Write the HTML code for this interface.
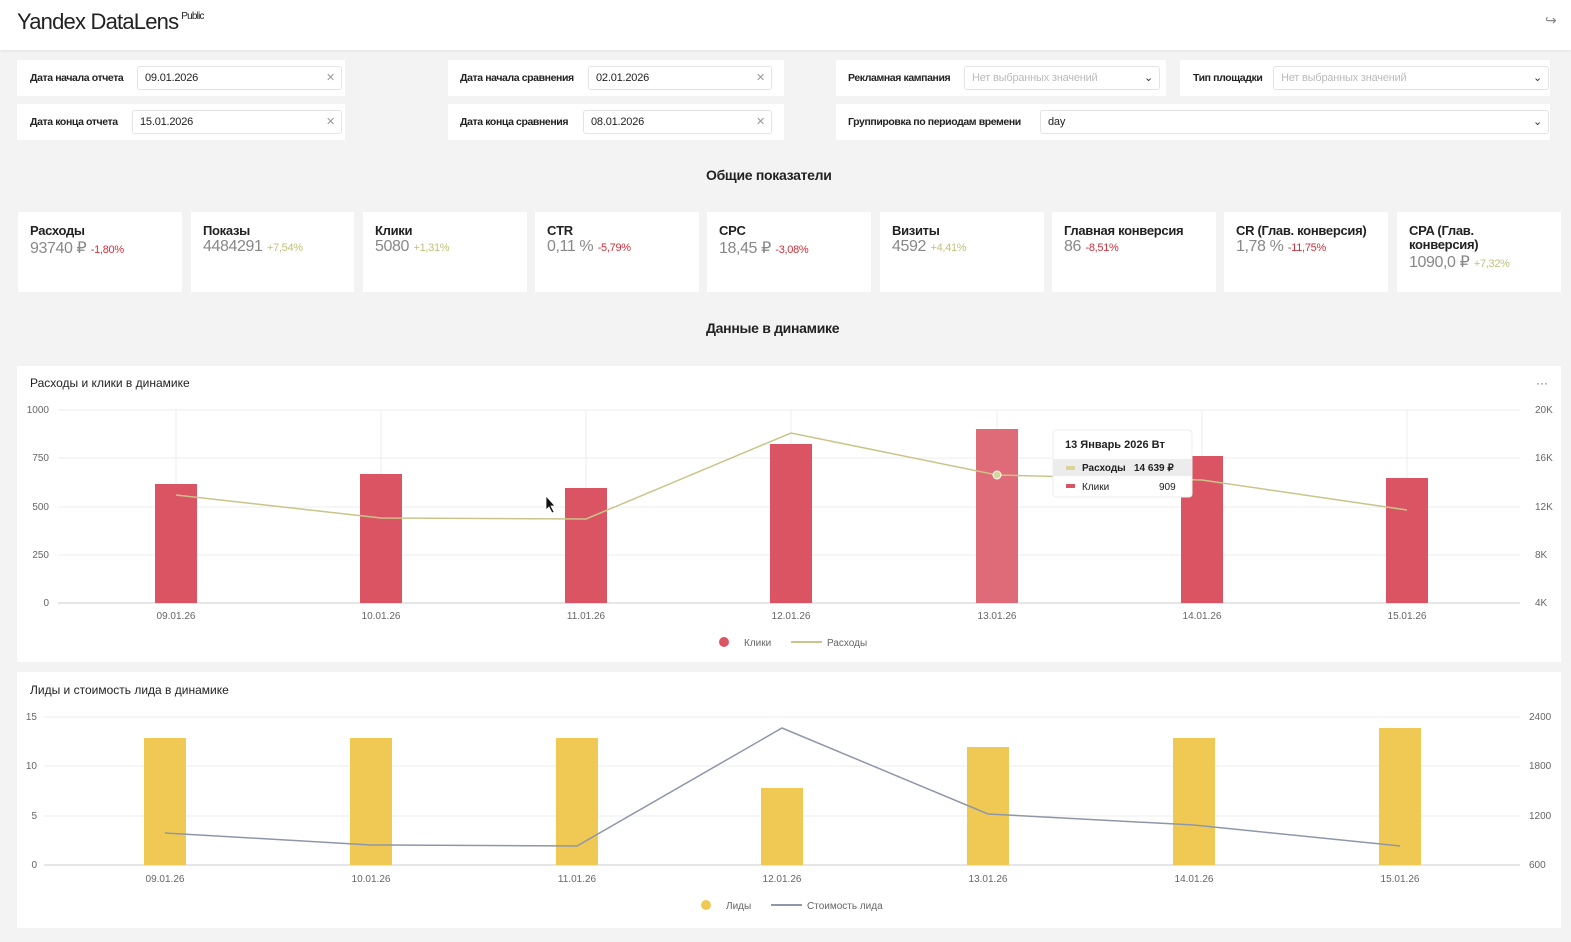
<!DOCTYPE html>
<html><head><meta charset="utf-8"><style>
*{box-sizing:border-box;margin:0;padding:0}
body{width:1571px;height:942px;background:#f3f3f4;font-family:"Liberation Sans",sans-serif;position:relative;overflow:hidden;color:#222}
.a{position:absolute}
.hdr{left:0;top:0;width:1571px;height:50px;background:#fff;box-shadow:0 1px 3px rgba(0,0,0,.08)}
.panel{background:#fff;position:absolute}
.lbl{font-size:10.5px;font-weight:bold;color:#222;position:absolute;letter-spacing:-0.4px}
.inp{position:absolute;height:24px;border:1px solid #e4e4e4;border-radius:3px;font-size:11px;padding:5px 7px;background:#fff;color:#222;letter-spacing:-0.2px}
.inp .x{position:absolute;right:6px;top:4px;color:#999}
.ph{color:#bbb}
.card{position:absolute;top:212px;height:80px;background:#fff;padding:12px 12px}
.card b{font-size:13px;display:block;color:#222;line-height:14px;letter-spacing:-0.3px}
.card .v{font-size:16px;color:#888;letter-spacing:-0.4px}
.card .r{font-size:11px;color:#d0303a;letter-spacing:-0.3px}
.card .g{font-size:11px;color:#c3c07a;letter-spacing:-0.3px}
.h{font-size:14px;font-weight:bold;position:absolute;letter-spacing:-0.3px}
svg text{font-family:"Liberation Sans",sans-serif}
</style></head><body>
<div class="a hdr"></div>
<div class="a" style="left:17px;top:9px;font-size:22px;color:#222;letter-spacing:-0.8px">Yandex DataLens<sup style="font-size:10px;vertical-align:10px;margin-left:3px">Public</sup></div>
<div class="a" style="left:1545px;top:12px;font-size:14px;color:#888">↪</div>

<div class="panel" style="left:17px;top:60px;width:328px;height:36px"></div>
<div class="panel" style="left:17px;top:104px;width:328px;height:36px"></div>
<div class="panel" style="left:448px;top:60px;width:336px;height:36px"></div>
<div class="panel" style="left:448px;top:104px;width:336px;height:36px"></div>
<div class="panel" style="left:836px;top:60px;width:330px;height:36px"></div>
<div class="panel" style="left:1180px;top:60px;width:370px;height:36px"></div>
<div class="panel" style="left:836px;top:104px;width:714px;height:36px"></div>

<div class="lbl" style="left:30px;top:72px">Дата начала отчета</div>
<div class="inp" style="left:137px;top:66px;width:205px">09.01.2026<span class="x">✕</span></div>
<div class="lbl" style="left:30px;top:116px">Дата конца отчета</div>
<div class="inp" style="left:132px;top:110px;width:210px">15.01.2026<span class="x">✕</span></div>
<div class="lbl" style="left:460px;top:72px">Дата начала сравнения</div>
<div class="inp" style="left:588px;top:66px;width:184px">02.01.2026<span class="x">✕</span></div>
<div class="lbl" style="left:460px;top:116px">Дата конца сравнения</div>
<div class="inp" style="left:583px;top:110px;width:189px">08.01.2026<span class="x">✕</span></div>
<div class="lbl" style="left:848px;top:72px">Рекламная кампания</div>
<div class="inp" style="left:964px;top:66px;width:196px"><span class="ph">Нет выбранных значений</span><span class="x" style="color:#333">⌄</span></div>
<div class="lbl" style="left:1193px;top:72px">Тип площадки</div>
<div class="inp" style="left:1273px;top:66px;width:276px"><span class="ph">Нет выбранных значений</span><span class="x" style="color:#333">⌄</span></div>
<div class="lbl" style="left:848px;top:116px">Группировка по периодам времени</div>
<div class="inp" style="left:1040px;top:110px;width:509px">day<span class="x" style="color:#333">⌄</span></div>

<div class="h" style="left:706px;top:167px">Общие показатели</div>

<div class="card" style="left:18px;width:164px"><b>Расходы</b><span class="v">93740 ₽</span> <span class="r">-1,80%</span></div>
<div class="card" style="left:191px;width:163px"><b>Показы</b><span class="v">4484291</span> <span class="g">+7,54%</span></div>
<div class="card" style="left:363px;width:164px"><b>Клики</b><span class="v">5080</span> <span class="g">+1,31%</span></div>
<div class="card" style="left:535px;width:164px"><b>CTR</b><span class="v">0,11 %</span> <span class="r">-5,79%</span></div>
<div class="card" style="left:707px;width:164px"><b>CPC</b><span class="v">18,45 ₽</span> <span class="r">-3,08%</span></div>
<div class="card" style="left:880px;width:164px"><b>Визиты</b><span class="v">4592</span> <span class="g">+4,41%</span></div>
<div class="card" style="left:1052px;width:164px"><b>Главная конверсия</b><span class="v">86</span> <span class="r">-8,51%</span></div>
<div class="card" style="left:1224px;width:164px"><b>CR (Глав. конверсия)</b><span class="v">1,78 %</span> <span class="r">-11,75%</span></div>
<div class="card" style="left:1397px;width:164px"><b>CPA (Глав.<br>конверсия)</b><span class="v">1090,0 ₽</span> <span class="g">+7,32%</span></div>

<div class="h" style="left:706px;top:320px">Данные в динамике</div>

<svg class="a" style="left:0;top:0" width="1571" height="942">
<rect x="17" y="366" width="1544" height="296" fill="#fff"/>
<rect x="17" y="672" width="1544" height="256" fill="#fff"/>
<text x="30" y="387" font-size="12" fill="#222">Расходы и клики в динамике</text>
<text x="1536" y="387" font-size="12" fill="#666">···</text>
<g stroke="#ececec" stroke-width="1">
<line x1="58" y1="410" x2="1520" y2="410"/><line x1="58" y1="458" x2="1520" y2="458"/><line x1="58" y1="507" x2="1520" y2="507"/><line x1="58" y1="555" x2="1520" y2="555"/>
<line x1="176" y1="410" x2="176" y2="603"/><line x1="381" y1="410" x2="381" y2="603"/><line x1="586" y1="410" x2="586" y2="603"/><line x1="791" y1="410" x2="791" y2="603"/><line x1="997" y1="410" x2="997" y2="603"/><line x1="1202" y1="410" x2="1202" y2="603"/><line x1="1407" y1="410" x2="1407" y2="603"/>
</g>
<line x1="58" y1="603" x2="1520" y2="603" stroke="#ccc"/>
<g font-size="10" fill="#666" text-anchor="end"><text x="49" y="413">1000</text><text x="49" y="461">750</text><text x="49" y="510">500</text><text x="49" y="558">250</text><text x="49" y="606">0</text></g>
<g font-size="10" fill="#666" text-anchor="start"><text x="1535" y="413">20K</text><text x="1535" y="461">16K</text><text x="1535" y="510">12K</text><text x="1535" y="558">8K</text><text x="1535" y="606">4K</text></g>
<g fill="#db5463"><rect x="155" y="484" width="42" height="119"/><rect x="360" y="474" width="42" height="129"/><rect x="565" y="488" width="42" height="115"/><rect x="770" y="444" width="42" height="159"/><rect x="976" y="429" width="42" height="174" fill="#df6b78"/><rect x="1181" y="456" width="42" height="147"/><rect x="1386" y="478" width="42" height="125"/></g>
<polyline points="176,495 381,518 586,519 791,433 997,475 1202,480 1407,510" fill="none" stroke="#c9c58a" stroke-width="1.5"/>
<circle cx="997" cy="475" r="4" fill="#d9d59a" stroke="#fff"/>
<g font-size="10" fill="#666" text-anchor="middle"><text x="176" y="619">09.01.26</text><text x="381" y="619">10.01.26</text><text x="586" y="619">11.01.26</text><text x="791" y="619">12.01.26</text><text x="997" y="619">13.01.26</text><text x="1202" y="619">14.01.26</text><text x="1407" y="619">15.01.26</text></g>
<circle cx="724" cy="642" r="5" fill="#db5463"/><text x="744" y="646" font-size="10" fill="#666">Клики</text>
<line x1="791" y1="642" x2="822" y2="642" stroke="#c9c58a" stroke-width="2"/><text x="827" y="646" font-size="10" fill="#666">Расходы</text>
<rect x="1053" y="430" width="139" height="67" fill="#fff" stroke="#eee" rx="3"/>
<text x="1065" y="448" font-size="11" font-weight="bold" fill="#222">13 Январь 2026 Вт</text>
<rect x="1053" y="459" width="139" height="17" fill="#ececec"/>
<rect x="1066" y="466" width="9" height="4" fill="#d9d59a"/><text x="1082" y="471" font-size="10" font-weight="bold" fill="#222">Расходы</text><text x="1134" y="471" font-size="10" font-weight="bold" fill="#222">14 639 ₽</text>
<rect x="1066" y="484" width="9" height="4" fill="#db5463"/><text x="1082" y="490" font-size="10" fill="#222">Клики</text><text x="1159" y="490" font-size="10" fill="#222">909</text>
<path d="M546,496 l0,14 l3,-3 l3,6 l2,-1 l-3,-6 l4,0 z" fill="#111" stroke="#fff" stroke-width="0.8"/>

<text x="30" y="694" font-size="12" fill="#222">Лиды и стоимость лида в динамике</text>
<g stroke="#ececec"><line x1="44" y1="717" x2="1520" y2="717"/><line x1="44" y1="766" x2="1520" y2="766"/><line x1="44" y1="816" x2="1520" y2="816"/></g>
<line x1="44" y1="865" x2="1520" y2="865" stroke="#ccc"/>
<g font-size="10" fill="#666" text-anchor="end"><text x="37" y="720">15</text><text x="37" y="769">10</text><text x="37" y="819">5</text><text x="37" y="868">0</text></g>
<g font-size="10" fill="#666"><text x="1529" y="720">2400</text><text x="1529" y="769">1800</text><text x="1529" y="819">1200</text><text x="1529" y="868">600</text></g>
<g fill="#f0c954"><rect x="144" y="738" width="42" height="127"/><rect x="350" y="738" width="42" height="127"/><rect x="556" y="738" width="42" height="127"/><rect x="761" y="788" width="42" height="77"/><rect x="967" y="747" width="42" height="118"/><rect x="1173" y="738" width="42" height="127"/><rect x="1379" y="728" width="42" height="137"/></g>
<polyline points="165,833 371,845 577,846 782,728 988,814 1194,825 1400,846" fill="none" stroke="#8e97a8" stroke-width="1.5"/>
<g font-size="10" fill="#666" text-anchor="middle"><text x="165" y="882">09.01.26</text><text x="371" y="882">10.01.26</text><text x="577" y="882">11.01.26</text><text x="782" y="882">12.01.26</text><text x="988" y="882">13.01.26</text><text x="1194" y="882">14.01.26</text><text x="1400" y="882">15.01.26</text></g>
<circle cx="706" cy="905" r="5" fill="#f0c954"/><text x="726" y="909" font-size="10" fill="#666">Лиды</text>
<line x1="771" y1="905" x2="802" y2="905" stroke="#8e97a8" stroke-width="2"/><text x="807" y="909" font-size="10" fill="#666">Стоимость лида</text>
</svg>
</body></html>
